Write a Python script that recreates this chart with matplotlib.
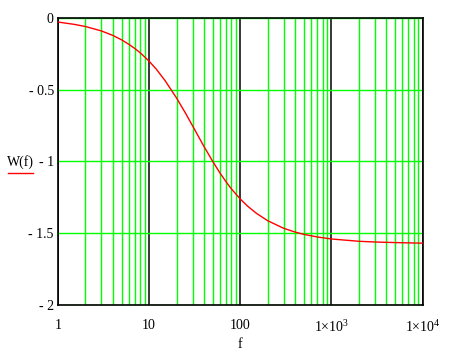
import matplotlib
matplotlib.use("Agg")
import matplotlib.pyplot as plt
from matplotlib.ticker import LogLocator, FixedLocator, FixedFormatter, NullFormatter
from matplotlib.lines import Line2D

plt.rcParams['font.family'] = ['Liberation Serif', 'DejaVu Serif']
plt.rcParams['mathtext.fontset'] = 'custom'
plt.rcParams['mathtext.rm'] = 'Liberation Serif'

# Data
f_vals = [1, 1.5, 2, 3, 4, 5, 6, 7, 8, 10, 12, 15, 20, 25, 30, 40, 50, 60,
          70, 80, 100, 120, 150, 200, 300, 400, 500, 700, 1000, 2000, 3000,
          5000, 10000]
w_vals = [-0.031, -0.047, -0.062, -0.093, -0.124, -0.155, -0.186, -0.216,
          -0.245, -0.303, -0.359, -0.439, -0.559, -0.663, -0.753, -0.896,
          -1.001, -1.081, -1.142, -1.191, -1.261, -1.310, -1.360, -1.412,
          -1.465, -1.491, -1.507, -1.525, -1.539, -1.555, -1.560, -1.564,
          -1.568]

x_ticks = [1, 10, 100, 1000, 10000]
x_tick_labels = ['1', '10', '100', r'$\mathregular{1{\times}10^{3}}$', r'$\mathregular{1{\times}10^{4}}$']
y_ticks = [0, -0.5, -1, -1.5, -2]
y_tick_labels = ['0', '- 0.5', '- 1', '- 1.5', '- 2']

fig = plt.figure(figsize=(4.68, 3.61), dpi=100)
ax = fig.add_axes([0.1239, 0.1543, 0.7789, 0.797])

ax.plot(f_vals, w_vals, color='red', lw=1.0, zorder=3)

ax.set_xscale('log')
ax.set_xlim(1, 10000)
ax.set_ylim(-2, 0)

ax.xaxis.set_major_locator(FixedLocator(x_ticks))
ax.xaxis.set_major_formatter(FixedFormatter(x_tick_labels))
ax.xaxis.set_minor_locator(LogLocator(base=10, subs=range(2, 10)))
ax.xaxis.set_minor_formatter(NullFormatter())
ax.yaxis.set_major_locator(FixedLocator(y_ticks))
ax.yaxis.set_major_formatter(FixedFormatter(y_tick_labels))

ax.xaxis.grid(True, which='major', color='black', lw=1.1)
ax.xaxis.grid(True, which='minor', color='#00ff00', lw=1.0)
ax.yaxis.grid(True, which='major', color='#00ff00', lw=1.0)
ax.set_axisbelow(True)

ax.tick_params(which='both', length=0, labelsize=10, colors='black')
ax.tick_params(axis='x', pad=10)
ax.tick_params(axis='y', pad=3)

for s in ax.spines.values():
    s.set_color('black')
    s.set_linewidth(1.2)

fig.text(240 / 468, 1 - 344 / 361, 'f', ha='center', va='center', fontsize=10)
fig.text(20 / 468, 1 - 162 / 361, 'W(f)', ha='center', va='center', fontsize=10)
fig.add_artist(Line2D([8 / 468, 33 / 468], [1 - 173 / 361, 1 - 173 / 361],
                      color='red', lw=1.0, transform=fig.transFigure))

fig.savefig('out.png', dpi=100)
